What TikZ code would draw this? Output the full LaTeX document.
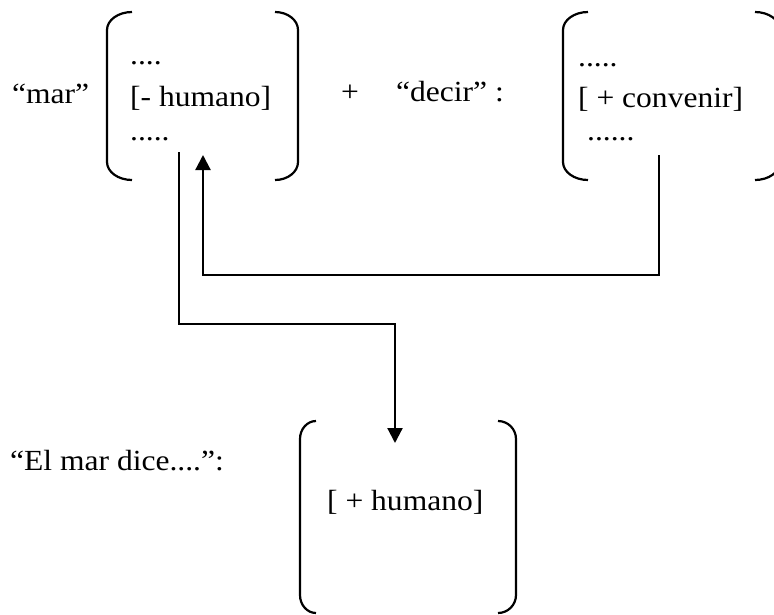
\documentclass[tikz,border=0pt]{standalone}
\usepackage{fontspec}
\setmainfont{Liberation Serif}[FakeStretch=1.08]
\usetikzlibrary{arrows.meta}

% Opening bracket: x of the stroke, top y, bottom y, horizontal reach of the hooks
\newcommand\openbrk[4]{%
  \draw[paren] ({#1+#4},#2) .. controls ({#1+0.45*#4},#2) and (#1,{#2+8}) .. (#1,{#2+18})
    -- (#1,{#3-18}) .. controls (#1,{#3-8}) and ({#1+0.45*#4},#3) .. ({#1+#4},#3);}
% Closing bracket, same arguments, hooks pointing left
\newcommand\closebrk[4]{%
  \draw[paren] ({#1-#4},#2) .. controls ({#1-0.45*#4},#2) and (#1,{#2+8}) .. (#1,{#2+18})
    -- (#1,{#3-18}) .. controls (#1,{#3-8}) and ({#1-0.45*#4},#3) .. ({#1-#4},#3);}

\begin{document}
\begin{tikzpicture}[x=1pt,y=-1pt,
  txt/.style={anchor=base west,inner sep=0pt,font=\fontsize{29.2}{35}\selectfont},
  paren/.style={line width=2.2pt},
  link/.style={line width=2.2pt},
  tip/.style={-{Triangle[length=15pt,width=15pt]}}]

\useasboundingbox (0,0) rectangle (774,614);
\clip (0,0) rectangle (774,614);

% feature matrix of "mar"
\node[txt] (marlbl) at (12,103) {“mar”};
\openbrk{107}{12}{180}{25}
\closebrk{298}{12}{180}{23}
\node[txt] (mardots1) at (130,64) {....};
\node[txt] (marfeat) at (130,106) {[- humano]};
\node[txt] (mardots2) at (130,140) {.....};

% plus sign and "decir"
\node[txt] (plus) at (341,101) {+};
\node[txt] (decirlbl) at (396,101) {“decir” :};
\openbrk{563}{12}{180}{25}
\closebrk{780}{12}{180}{25}
\node[txt] (decirdots1) at (578,66) {.....};
\node[txt] (decirfeat) at (578,107) {[ + convenir]};
\node[txt] (decirdots2) at (587,140) {......};

% resulting matrix
\node[txt] (resultlbl) at (10,470) {“El mar dice....”:};
\openbrk{300}{421}{613}{16}
\closebrk{516}{421}{613}{18}
\node[txt] (resultfeat) at (327,510) {[ + humano]};

% connector end points
\coordinate (marfoot) at (179,152);
\coordinate (marhead) at (203,155);
\coordinate (decirfoot) at (659,155);
\coordinate (resulthead) at (395,443);

% [+ convenir] is carried back onto "mar"
\draw[link,tip] (decirfoot) -- ++(0,120) -| (marhead);
% and "mar" passes on to the result
\draw[link,tip] (marfoot) -- ++(0,172) -| (resulthead);

\end{tikzpicture}
\end{document}
